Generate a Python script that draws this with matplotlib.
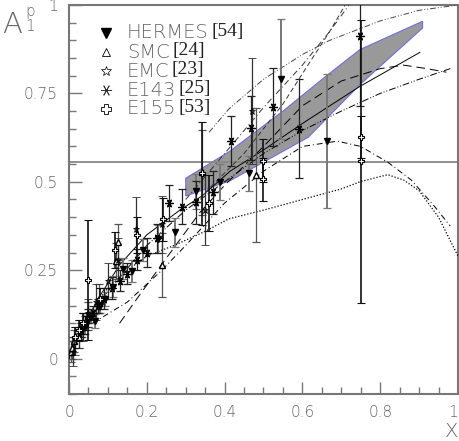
import matplotlib
matplotlib.use("Agg")
import matplotlib.pyplot as plt
from matplotlib.ticker import MultipleLocator
import numpy as np

# ---------------- data ----------------
# HERMES
hermes_x = [0.033, 0.040, 0.048, 0.056, 0.067, 0.080, 0.093, 0.113, 0.139, 0.162, 0.190, 0.229, 0.272, 0.326, 0.388, 0.463, 0.546, 0.662]
hermes_y = [0.08, 0.09, 0.11, 0.12, 0.107, 0.15, 0.169, 0.203, 0.254, 0.248, 0.307, 0.338, 0.357, 0.473, 0.50, 0.524, 0.79, 0.615]
hermes_e = [0.02, 0.02, 0.02, 0.02, 0.02, 0.02, 0.02, 0.03, 0.03, 0.03, 0.03, 0.04, 0.04, 0.05, 0.05, 0.05, 0.17, 0.19]
# SMC
smc_x = [0.005, 0.008, 0.014, 0.025, 0.035, 0.049, 0.077, 0.121, 0.125, 0.238, 0.342, 0.480]
smc_y = [0.02, 0.03, 0.05, 0.06, 0.10, 0.12, 0.17, 0.276, 0.33, 0.265, 0.527, 0.52]
smc_e = [0.03, 0.03, 0.03, 0.03, 0.03, 0.04, 0.04, 0.05, 0.05, 0.09, 0.12, 0.19]
# EMC
emc_x = [0.010, 0.015, 0.025, 0.035, 0.048, 0.070, 0.100, 0.125, 0.172, 0.240, 0.350, 0.470]
emc_y = [0.02, 0.05, 0.07, 0.09, 0.13, 0.16, 0.22, 0.28, 0.366, 0.38, 0.42, 0.70]
emc_e = [0.04, 0.04, 0.04, 0.04, 0.04, 0.05, 0.05, 0.06, 0.09, 0.08, 0.10, 0.15]
# E143
e143_x = [0.031, 0.040, 0.050, 0.062, 0.075, 0.090, 0.110, 0.130, 0.150, 0.175, 0.200, 0.225, 0.257, 0.290, 0.326, 0.370, 0.416, 0.468, 0.525, 0.592, 0.748]
e143_y = [0.08, 0.10, 0.12, 0.13, 0.15, 0.17, 0.20, 0.22, 0.24, 0.28, 0.30, 0.34, 0.44, 0.43, 0.442, 0.47, 0.615, 0.653, 0.712, 0.65, 0.913]
e143_e = [0.02, 0.02, 0.02, 0.02, 0.02, 0.03, 0.03, 0.03, 0.03, 0.03, 0.04, 0.04, 0.05, 0.05, 0.06, 0.06, 0.07, 0.09, 0.11, 0.14, 0.20]
# E155
e155_x = [0.015, 0.025, 0.035, 0.049, 0.080, 0.118, 0.175, 0.242, 0.342, 0.360, 0.500, 0.500, 0.750, 0.750]
e155_y = [0.06, 0.08, 0.10, 0.222, 0.17, 0.307, 0.35, 0.394, 0.524, 0.44, 0.56, 0.507, 0.626, 0.558]
e155_e = [0.03, 0.03, 0.03, 0.17, 0.03, 0.05, 0.05, 0.06, 0.145, 0.08, 0.06, 0.06, 0.06, 0.40]

legend_names = ["HERMES", "SMC", "EMC", "E143", "E155"]
legend_refs = ["[54]", "[24]", "[23]", "[25]", "[53]"]

# band
band_x = [0.30, 0.414, 0.55, 0.662, 0.748, 0.909, 0.909, 0.748, 0.615, 0.414, 0.30]
band_y = [0.51, 0.587, 0.70, 0.80, 0.874, 0.954, 0.935, 0.775, 0.626, 0.503, 0.46]

hline_y = 0.555

# theory curves
solid_x = [0.0, 0.03, 0.08, 0.13, 0.2, 0.285, 0.342, 0.414, 0.5, 0.6, 0.748, 0.902]
solid_y = [0.0, 0.08, 0.178, 0.265, 0.35, 0.42, 0.46, 0.53, 0.59, 0.665, 0.77, 0.866]
ldash_x = [0.13, 0.175, 0.234, 0.337, 0.4, 0.5, 0.6, 0.7, 0.8, 0.86, 0.92, 0.97]
ldash_y = [0.10, 0.17, 0.26, 0.414, 0.49, 0.60, 0.715, 0.785, 0.82, 0.83, 0.82, 0.81]
ddlow_x = [0.06, 0.087, 0.15, 0.234, 0.3, 0.35, 0.4, 0.5, 0.6, 0.69, 0.75, 0.82, 0.88, 0.94, 0.98]
ddlow_y = [0.10, 0.118, 0.16, 0.245, 0.32, 0.38, 0.44, 0.53, 0.60, 0.615, 0.60, 0.555, 0.505, 0.43, 0.375]
ddmid_x = [0.02, 0.1, 0.2, 0.3, 0.4, 0.5, 0.6, 0.7, 0.8, 0.9, 0.98]
ddmid_y = [0.05, 0.19, 0.32, 0.42, 0.50, 0.58, 0.645, 0.70, 0.75, 0.79, 0.82]
dot_x = [0.0, 0.03, 0.06, 0.1, 0.15, 0.2, 0.27, 0.35, 0.41, 0.5, 0.6, 0.7, 0.748, 0.8, 0.82, 0.86, 0.9, 0.95, 1.0]
dot_y = [0.0, 0.08, 0.14, 0.20, 0.25, 0.29, 0.32, 0.36, 0.395, 0.42, 0.45, 0.48, 0.50, 0.515, 0.52, 0.505, 0.475, 0.40, 0.29]
top_x = [0.36, 0.41, 0.5, 0.6, 0.67, 0.8, 0.9, 1.0]
top_y = [0.64, 0.705, 0.79, 0.86, 0.90, 0.955, 0.985, 1.0]
steep1_x = [0.30, 0.40, 0.5, 0.6, 0.67, 0.72]
steep1_y = [0.45, 0.58, 0.71, 0.83, 0.925, 1.0]
steep2_x = [0.35, 0.45, 0.55, 0.62, 0.67, 0.71]
steep2_y = [0.47, 0.58, 0.72, 0.84, 0.925, 1.0]

# ---------------- figure ----------------
fig = plt.figure(figsize=(4.6, 4.41), dpi=100)
ax = fig.add_axes([69/460, 1-394/441, 389/460, 389/441])
ax.set_xlim(0, 1)
ax.set_ylim(-0.1, 1.0)

gray = "#777777"
tcol = "#666666"

ax.fill(band_x, band_y, facecolor="#999999", edgecolor="#6f6fd8", lw=0.8, zorder=1)
ax.axhline(hline_y, color="#888888", lw=1.3, zorder=2)

lw = 0.7
ax.plot(solid_x, solid_y, color="k", lw=lw, ls="-", zorder=3)
ax.plot(ldash_x, ldash_y, color="k", lw=lw, ls=(0, (9, 5)), zorder=3)
ax.plot(ddlow_x, ddlow_y, color="k", lw=lw, ls=(0, (6, 3, 1, 3)), zorder=3)
ax.plot(ddmid_x, ddmid_y, color="k", lw=lw, ls=(0, (7, 2, 1, 2, 1, 2)), zorder=3)
ax.plot(dot_x, dot_y, color="k", lw=0.9, ls=(0, (1, 1.5)), zorder=3)
ax.plot(top_x, top_y, color="#444444", lw=lw, ls=(0, (6, 2, 1, 2, 1, 2)), zorder=3)
ax.plot(steep1_x, steep1_y, color="#333333", lw=lw, ls=(0, (6, 3, 1, 3)), zorder=3)
ax.plot(steep2_x, steep2_y, color="#333333", lw=lw, ls=(0, (5, 3)), zorder=3)

eb = dict(ls="none", capsize=3, elinewidth=0.9, capthick=0.9, zorder=4)
ax.errorbar(hermes_x, hermes_y, yerr=hermes_e, marker="v", ms=4.5, mfc="k", mec="k",
            ecolor="#777777", **{**eb, "elinewidth": 1.4})
ax.errorbar(smc_x, smc_y, yerr=smc_e, marker="^", ms=5, mfc="white", mec="k",
            ecolor="#555555", **eb)
ax.errorbar(emc_x, emc_y, yerr=emc_e, marker="*", ms=5, mfc="none", mec="k", mew=0.6,
            ecolor="#333333", **eb)
ax.errorbar(e143_x, e143_y, yerr=e143_e, marker=(6, 2, 90), ms=6, mfc="k", mec="k", mew=0.9,
            ecolor="#222222", **eb)
ax.errorbar(e155_x, e155_y, yerr=e155_e, marker="P", ms=5, mfc="white", mec="k", mew=0.8,
            ecolor="#111111", **{**eb, "elinewidth": 1.2})

# axes styling
for s in ax.spines.values():
    s.set_color(gray)
    s.set_linewidth(1.5)
ax.xaxis.set_major_locator(MultipleLocator(0.2))
ax.xaxis.set_minor_locator(MultipleLocator(0.05))
ax.yaxis.set_major_locator(MultipleLocator(0.25))
ax.yaxis.set_minor_locator(MultipleLocator(0.05))
ax.tick_params(which="major", direction="in", length=9, width=1.0, color=gray,
               labelsize=11, labelcolor=tcol, pad=8)
ax.tick_params(which="minor", direction="in", length=5, width=1.0, color=gray)
ax.set_xticks([0, 0.2, 0.4, 0.6, 0.8, 1.0])
ax.set_xticklabels(["0", "0.2", "0.4", "0.6", "0.8", "1"])
ax.set_yticks([0, 0.25, 0.5, 0.75, 1.0])
ax.set_yticklabels(["0", "0.25", "0.5", "0.75", "1"])
for lab in ax.get_xticklabels() + ax.get_yticklabels():
    lab.set_fontweight("light")
ax.get_xticklabels()[-1].set_horizontalalignment("right")

# axis titles
fig.text(2/460, 1-33/441, "A", fontsize=21, color=tcol, fontweight="light", ha="left", va="baseline")
fig.text(25/460, 1-16/441, "p", fontsize=11, color=tcol, fontweight="light", ha="left", va="baseline")
fig.text(25/460, 1-31/441, "1", fontsize=11, color=tcol, fontweight="light", ha="left", va="baseline")
fig.text(445/460, 1-437/441, "X", fontsize=14, color=tcol, fontweight="light", ha="left", va="baseline")

# legend (manual)
leg_markers = [dict(marker="v", mfc="k", mec="k", ms=7),
               dict(marker="^", mfc="white", mec="k", ms=6, mew=0.6),
               dict(marker="*", mfc="none", mec="k", ms=7, mew=0.5),
               dict(marker=(6, 2, 90), mfc="k", mec="#333333", ms=8, mew=0.6),
               dict(marker="P", mfc="white", mec="k", ms=7, mew=0.6)]
rows = [0.929, 0.879, 0.830, 0.781, 0.733]
fig.canvas.draw()
renderer = fig.canvas.get_renderer()
for name, ref, m, ry in zip(legend_names, legend_refs, leg_markers, rows):
    ax.plot([0.095], [ry], transform=ax.transAxes, ls="none", clip_on=False, **m)
    t = ax.text(0.149, ry, name, transform=ax.transAxes, fontsize=14, color=tcol,
                fontweight="light", ha="left", va="center")
    bb = t.get_window_extent(renderer=renderer)
    x1 = ax.transAxes.inverted().transform((bb.x1, bb.y0))[0]
    ax.text(x1 + 0.006, ry + 0.004, ref, transform=ax.transAxes, fontsize=14,
            family="Liberation Serif", color="#222222", ha="left", va="center")

fig.savefig("out.png", dpi=100)
